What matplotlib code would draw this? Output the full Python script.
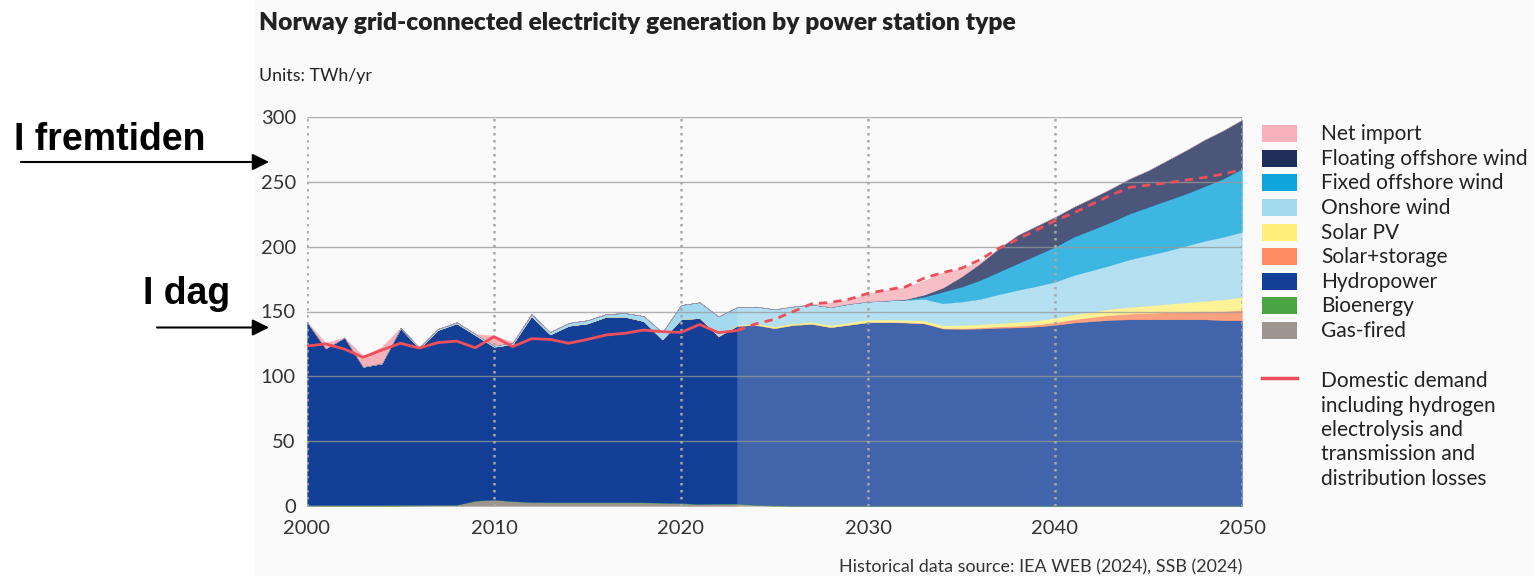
import matplotlib
matplotlib.use("Agg")
import matplotlib.pyplot as plt
from matplotlib.patches import Rectangle
from matplotlib.lines import Line2D

W, H = 1534, 576

# data (TWh/yr), years 2000..2050, 2000-2023 historical, 2023-2050 projection
years = list(range(2000, 2051))

gas = [0.3, 0.3, 0.3, 0.3, 0.3, 0.3, 0.4, 0.5, 0.6, 3.8,
       4.6, 3.4, 2.8, 2.6, 2.6, 2.6, 2.6, 2.6, 2.5, 2.3,
       1.9, 1.3, 1.5, 1.6, 0.6, 0.2, 0.0, 0.0, 0.0, 0.0,
       0.0, 0.0, 0.0, 0.0, 0.0, 0.0, 0.0, 0.0, 0.0, 0.0,
       0.0, 0.0, 0.0, 0.0, 0.0, 0.0, 0.0, 0.0, 0.0, 0.0,
       0.0]
bio = [0.3, 0.3, 0.3, 0.3, 0.3, 0.4, 0.4, 0.4, 0.3, 0.3,
       0.3, 0.3, 0.3, 0.3, 0.3, 0.3, 0.3, 0.3, 0.3, 0.3,
       0.3, 0.3, 0.3, 0.3, 0.3, 0.3, 0.3, 0.3, 0.3, 0.3,
       0.3, 0.3, 0.3, 0.3, 0.3, 0.3, 0.3, 0.3, 0.3, 0.3,
       0.3, 0.3, 0.3, 0.3, 0.3, 0.3, 0.3, 0.3, 0.3, 0.3,
       0.3]
hydro = [141.3, 120.9, 129.3, 106.7, 109.3, 136.3, 120.8, 134.8, 139.9, 127.7,
         117.9, 121.1, 143.3, 129.4, 136.1, 137.9, 143.0, 143.0, 139.8, 125.8,
         141.7, 143.3, 129.1, 137.0, 138.7, 136.6, 139.3, 140.1, 137.6, 139.5,
         141.4, 141.4, 141.1, 140.4, 136.5, 136.2, 136.5, 137.1, 137.4, 138.1,
         139.3, 141.1, 142.2, 143.2, 143.6, 143.6, 143.6, 143.6, 143.6, 143.0,
         142.8]
solar_storage = [0.0] * 10 + [0.0] * 10 + [0.0] * 10 + \
    [0.0, 0.1, 0.2, 0.3, 0.4, 0.6, 0.8, 1.0, 1.3, 1.6,
     2.0, 2.6, 3.2, 3.8, 4.4, 5.0, 5.4, 5.8, 6.2, 7.0,
     8.0]
solar_pv = [0.0] * 10 + [0.0] * 10 + \
    [0.1, 0.2, 0.3, 0.5, 1.2, 1.3, 1.4, 1.5, 1.6, 1.8,
     2.0, 2.0, 2.0, 2.0, 2.2, 2.4, 2.6, 2.8, 3.0, 3.2,
     3.4, 3.8, 4.2, 4.7, 5.2, 5.7, 6.5, 7.3, 8.1, 9.0,
     10.0]
onshore = [0.0, 0.0, 0.1, 0.2, 0.3, 0.5, 0.7, 0.9, 0.9, 1.0,
           0.9, 1.3, 1.6, 1.9, 2.2, 2.5, 2.1, 2.9, 3.9, 5.5,
           11.0, 12.0, 15.0, 14.0, 13.0, 13.3, 12.8, 13.5, 13.8, 14.3,
           13.9, 14.6, 15.3, 16.7, 16.9, 18.1, 19.5, 22.1, 24.6, 26.4,
           27.9, 30.3, 32.0, 33.9, 36.7, 38.9, 41.0, 43.7, 46.3, 48.3,
           50.3]
fixed_off = [0.0] * 10 + [0.0] * 10 + [0.0] * 10 + \
    [0.0, 0.0, 0.3, 1.7, 9.0, 11.5, 14.6, 17.4, 20.5, 23.9,
     27.0, 29.5, 31.4, 33.2, 35.4, 37.2, 39.0, 40.2, 42.1, 44.9,
     48.8]
floating_off = [0.0] * 10 + [0.0] * 10 + [0.0] * 10 + \
    [0.0, 0.0, 0.2, 1.5, 3.0, 7.8, 12.8, 18.0, 21.8, 22.4,
     23.0, 23.1, 24.3, 25.7, 26.9, 28.2, 30.8, 33.4, 35.9, 37.2,
     37.7]
net_import = [0.0, 4.4, 0.0, 8.3, 12.5, 0.0, 0.3, 0.0, 0.0, 0.0,
              7.7, 0.5, 0.0, 0.0, 0.0, 0.0, 0.0, 0.0, 0.0, 0.0,
              0.0, 0.0, 0.0, 0.0, 0.0, 0.0, 0.0, 0.5, 3.6, 3.5,
              6.3, 8.2, 9.5, 11.0, 11.7, 6.4, 1.5, 0.0, 0.0, 0.0,
              0.0, 0.0, 0.0, 0.0, 0.0, 0.0, 0.0, 0.0, 0.0, 0.0,
              0.0]
demand = [123.4, 125.0, 121.0, 114.7, 120.3, 125.5, 121.8, 126.0, 127.2, 122.0,
          130.6, 122.9, 129.0, 128.5, 125.5, 128.5, 131.9, 133.2, 135.7, 134.4,
          133.9, 140.0, 133.7, 135.3, 140.5, 144.0, 150.0, 156.0, 157.0, 159.5,
          164.0, 166.7, 169.0, 175.7, 180.0, 183.4, 190.0, 198.8, 205.7, 212.8,
          220.0, 226.0, 233.0, 239.8, 245.7, 247.5, 249.2, 251.3, 253.4, 256.0,
          259.5]
last_hist = 2023

series = [gas, bio, hydro, solar_storage, solar_pv, onshore, fixed_off, floating_off, net_import]
colors = ['#9e958e', '#4aa444', '#133f96', '#ff8c63', '#fff07c', '#a3daf0',
          '#0ea5dd', '#1f2d5a', '#f8b0ba']
legend_labels = ['Net import', 'Floating offshore wind', 'Fixed offshore wind', 'Onshore wind',
                 'Solar PV', 'Solar+storage', 'Hydropower', 'Bioenergy', 'Gas-fired']
demand_label = ['Domestic demand', 'including hydrogen', 'electrolysis and',
                'transmission and', 'distribution losses']

red = '#ee4f5a'

def fx(px):
    return px / W

def fy(py):
    return 1 - py / H

fig = plt.figure(figsize=(W / 100, H / 100), dpi=100)
fig.patch.set_facecolor('white')
fig.add_artist(Rectangle((fx(255), 0), 1 - fx(255), 1, transform=fig.transFigure,
                         facecolor='#fafafa', edgecolor='none', zorder=-10))

ax = fig.add_axes([fx(307), fy(506), fx(1242) - fx(307), fy(117) - fy(506)])
ax.set_facecolor('none')

i0 = years.index(last_hist)
hist = [s[:i0 + 1] for s in series]
fut = [s[i0:] for s in series]
ax.stackplot(years[:i0 + 1], *hist, colors=colors, linewidth=0.2,
             edgecolor='face', zorder=1)
ax.stackplot(years[i0:], *fut, colors=colors, linewidth=0.2,
             edgecolor='face', alpha=0.8, zorder=1)

ax.plot(years[:i0 + 1], demand[:i0 + 1], color=red, lw=2, zorder=5)
ax.plot(years[i0:], demand[i0:], color=red, lw=2, ls=(0, (3, 2.2)), zorder=5)

# grid
for v in range(0, 301, 50):
    ax.axhline(v, color='#999999', lw=1.0, alpha=0.75, zorder=3)
for x in range(2000, 2051, 10):
    ax.axvline(x, color='#a8a8a8', lw=1.8, ls=(0, (1, 1.8)), zorder=4)

ax.set_xlim(2000, 2050)
ax.set_ylim(0, 300)
ax.set_xticks(range(2000, 2051, 10))
ax.set_yticks(range(0, 301, 50))
ax.tick_params(axis='both', length=0, labelsize=14.5, labelcolor='#333333')
ax.tick_params(axis='x', pad=10)
ax.tick_params(axis='y', pad=8)
for lab in ax.get_xticklabels() + ax.get_yticklabels():
    lab.set_family('Lato')
for sp in ax.spines.values():
    sp.set_visible(False)

# titles
fig.text(fx(259), fy(30), 'Norway grid-connected electricity generation by power station type',
         family='Lato', weight='heavy', fontsize=17.7, color='#222222', va='baseline')
fig.text(fx(259), fy(81), 'Units: TWh/yr', family='Lato', fontsize=12.8,
         color='#222222', va='baseline')
fig.text(fx(1242), fy(572), 'Historical data source: IEA WEB (2024), SSB (2024)',
         family='Lato', fontsize=12.9, color='#333333', ha='right', va='baseline')

# legend
rows = [133, 158, 182, 207, 232, 256, 281, 305, 330]
for lab, col, ry in zip(legend_labels, colors[::-1], rows):
    fig.add_artist(Rectangle((fx(1262), fy(ry + 8.5)), fx(35), 17 / H,
                             transform=fig.transFigure, facecolor=col,
                             edgecolor='none'))
    fig.text(fx(1321), fy(ry + 1), lab, family='Lato', fontsize=15,
             color='#222222', va='center')
fig.add_artist(Line2D([fx(1262), fx(1297)], [fy(378), fy(378)],
                      transform=fig.transFigure, color=red, lw=2.5))
for k, line in enumerate(demand_label):
    fig.text(fx(1321), fy(381 + 24.5 * k), line, family='Lato', fontsize=15,
             color='#222222', va='center')

# annotations
fig.text(fx(14), fy(150), 'I fremtiden', family='Liberation Sans', weight='bold',
         fontsize=27, color='black', va='baseline')
fig.text(fx(143), fy(304), 'I dag', family='Liberation Sans', weight='bold',
         fontsize=27, color='black', va='baseline')
arrow = dict(arrowstyle='-|>', color='black', lw=1.5, mutation_scale=25,
             shrinkA=0, shrinkB=0)
ax.annotate('', xy=(fx(269), fy(162)), xytext=(fx(21), fy(162)),
            xycoords='figure fraction', textcoords='figure fraction',
            arrowprops=arrow, annotation_clip=False)
ax.annotate('', xy=(fx(269), fy(327.5)), xytext=(fx(157), fy(327.5)),
            xycoords='figure fraction', textcoords='figure fraction',
            arrowprops=arrow, annotation_clip=False)

fig.savefig('out.png', dpi=100)
